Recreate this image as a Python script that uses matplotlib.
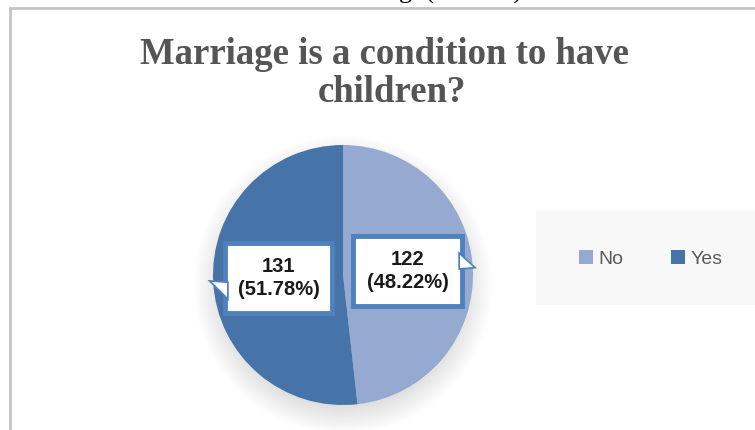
import numpy as np
import matplotlib.pyplot as plt
from matplotlib.patches import Circle, Rectangle, Polygon, Patch

W, H = 755, 430

answers = ["No", "Yes"]
counts = [122, 131]
colors = ["#95A9D1", "#4673A8"]
title_lines = ["Marriage is a condition to have", "children?"]

total = sum(counts)
labels = ["{}\n({:.2f}%)".format(c, 100 * c / total) for c in counts]

fig = plt.figure(figsize=(W / 100, H / 100), dpi=100)
ax = fig.add_axes([0, 0, 1, 1])


def Y(y):
    # pixel rows run top-down, axes run bottom-up
    return H - y


# leftover caption line from the page above the chart
ax.text(399, Y(-1.5), "g  (Overall)", fontsize=19, family="Liberation Serif",
        color="black", ha="left", va="baseline", zorder=1)

# chart frame
ax.plot([10, 10, W], [Y(H), Y(8), Y(8)], color="#C4C4C4", lw=2, zorder=3,
        solid_joinstyle="miter")

ax.text(385, Y(64), title_lines[0], fontsize=26.5,
        family="Liberation Serif", fontweight="bold", color="#555555",
        ha="center", va="baseline", zorder=4)
ax.text(392, Y(102), title_lines[1], fontsize=26.5,
        family="Liberation Serif", fontweight="bold", color="#555555",
        ha="center", va="baseline", zorder=4)

# pie with soft shadow underneath
cx, cy, r = 343, 275, 130
for k in range(16):
    ax.add_patch(Circle((cx, Y(cy + 10)), r - 8 + 1.8 * k, facecolor="black",
                        edgecolor="none", alpha=0.009, zorder=4))
ax.pie(counts, colors=colors, startangle=90, counterclock=False,
       center=(cx, Y(cy)), radius=r, frame=True,
       wedgeprops=dict(linewidth=0, zorder=5))

# data label callouts: box corners, pointer side and pointer tip
boxes = [(353, 236, 462, 306, "right", (473, 267)),
         (225, 243, 332, 313, "left", (212, 282))]
for (x0, y0, x1, y1, side, tip), lab in zip(boxes, labels):
    ax.add_patch(Rectangle((x0, Y(y1)), x1 - x0, y1 - y0, facecolor="white",
                           edgecolor="#4F81BD", lw=3.5, zorder=6))
    if side == "right":
        tri = [(x1 - 2, Y(tip[1] - 12)), (tip[0], Y(tip[1])), (x1 - 2, Y(tip[1] + 1))]
    else:
        tri = [(x0 + 2, Y(tip[1] + 1)), (tip[0], Y(tip[1])), (x0 + 2, Y(tip[1] + 15))]
    ax.add_patch(Polygon(tri, closed=True, facecolor="white", edgecolor="#4F81BD",
                         lw=2.5, zorder=6))
    ax.add_patch(Polygon(tri, closed=True, facecolor="white", edgecolor="none", zorder=7))
    ax.text((x0 + x1) / 2, Y((y0 + y1) / 2), lab, fontsize=14.5, family="Liberation Sans",
            fontweight="bold", color="#1A1A1A", ha="center", va="center",
            linespacing=1.3, zorder=8)

# legend panel
ax.add_patch(Rectangle((536, Y(305)), W - 536, 95, facecolor="#F8F8F8",
                       edgecolor="none", zorder=3))
handles = [Patch(facecolor=c, edgecolor="none") for c in colors]
leg = ax.legend(handles, answers, loc="center left", bbox_to_anchor=(579, Y(259)),
                bbox_transform=ax.transData, ncol=2, frameon=False,
                handlelength=0.72, handleheight=0.72, handletextpad=0.3,
                columnspacing=2.4, borderpad=0, borderaxespad=0,
                prop=dict(family="Liberation Sans", size=14))
for t in leg.get_texts():
    t.set_color("#595959")

ax.set_xlim(0, W)
ax.set_ylim(0, H)
ax.set_aspect("equal")
ax.axis("off")

fig.savefig("out.png", dpi=100)
